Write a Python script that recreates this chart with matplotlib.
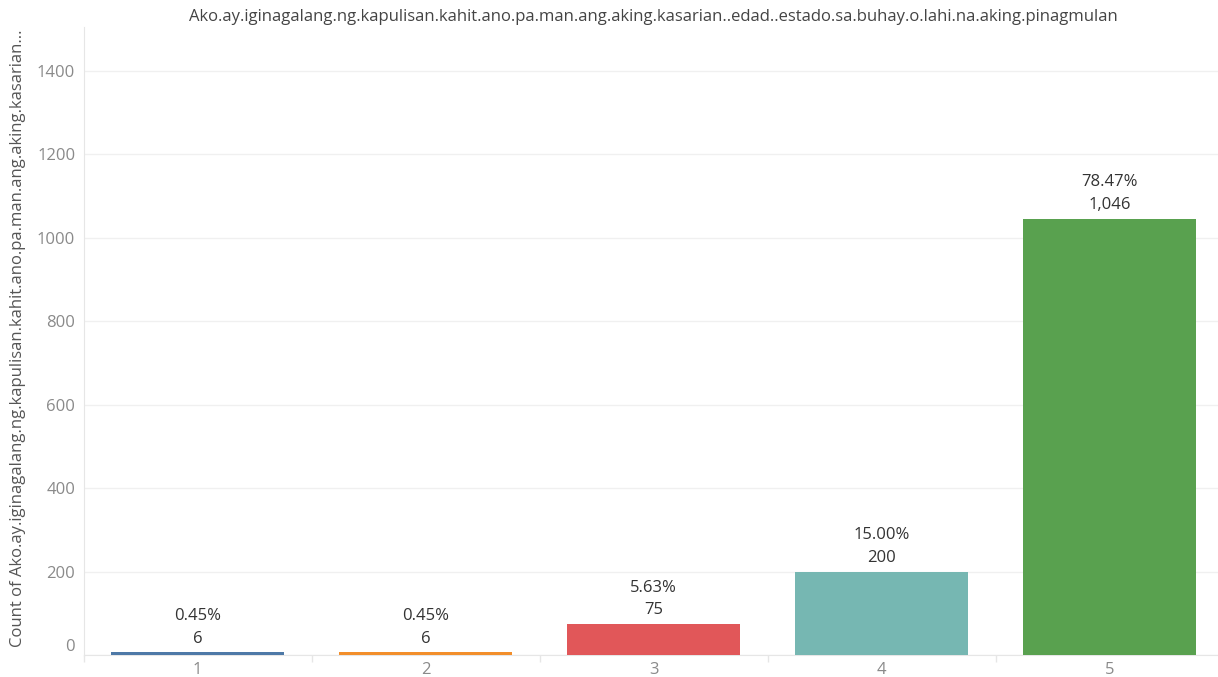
import matplotlib
matplotlib.use("Agg")
import matplotlib.pyplot as plt
from matplotlib.ticker import FixedLocator

categories = ["1", "2", "3", "4", "5"]
counts = [6, 6, 75, 200, 1046]
percents = ["0.45%", "0.45%", "5.63%", "15.00%", "78.47%"]
count_labels = ["6", "6", "75", "200", "1,046"]
colors = ["#4e79a7", "#f28e2b", "#e15759", "#76b7b2", "#59a14f"]
yticks = [0, 200, 400, 600, 800, 1000, 1200, 1400]

title = "Ako.ay.iginagalang.ng.kapulisan.kahit.ano.pa.man.ang.aking.kasarian..edad..estado.sa.buhay.o.lahi.na.aking.pinagmulan"
ylabel = "Count of Ako.ay.iginagalang.ng.kapulisan.kahit.ano.pa.man.ang.aking.kasarian..."

plt.rcParams['font.family'] = ['Open Sans', 'DejaVu Sans']

W, H = 1218, 677
fig = plt.figure(figsize=(W / 100, H / 100), dpi=100)
left = 83.5 / W
bottom = (H - 655) / H
top = (H - 27) / H
ax = fig.add_axes([left, bottom, 1 - left, top - bottom])

x = list(range(len(categories)))
ax.bar(x, counts, width=0.755, color=colors, zorder=3)

ax.set_xlim(-0.5, 4.5 - 5.5 / 228)
ax.set_ylim(0, 1505)

ax.set_yticks(yticks)
ax.set_yticklabels([str(v) for v in yticks])
ax.set_xticks(x)
ax.set_xticklabels(categories)
ax.xaxis.set_minor_locator(FixedLocator([0.5, 1.5, 2.5, 3.5, -0.5]))

ax.tick_params(axis='y', length=0, pad=6, labelsize=12, labelcolor='#8a8a8a')
ax.tick_params(axis='x', which='major', length=0, pad=5, labelsize=12, labelcolor='#8a8a8a')
ax.tick_params(axis='x', which='minor', length=5, width=1, color='#e6e6e6')

ax.grid(axis='y', color='#f0f0f0', linewidth=1, zorder=0)
for s in ['top', 'right']:
    ax.spines[s].set_visible(False)
ax.spines['left'].set_color('#e6e6e6')
ax.spines['bottom'].set_color('#e6e6e6')

ylab = ax.get_yticklabels()
ylab[0].set_va('bottom')

for xi, c, p, cl in zip(x, counts, percents, count_labels):
    ax.annotate(cl, (xi, c), xytext=(0, 10), textcoords='offset points',
                ha='center', va='center', fontsize=12, color='#333333')
    ax.annotate(p, (xi, c), xytext=(0, 26), textcoords='offset points',
                ha='center', va='center', fontsize=12, color='#333333')

fig.text((83.5 + 1223.5) / 2 / W, 1 - 17 / H, title, ha='center', va='center',
         fontsize=12, color='#444444')
fig.text(18 / W, 1 - 338 / H, ylabel, rotation=90, ha='center', va='center',
         fontsize=12, color='#555555')

fig.savefig("out.png", dpi=100)
